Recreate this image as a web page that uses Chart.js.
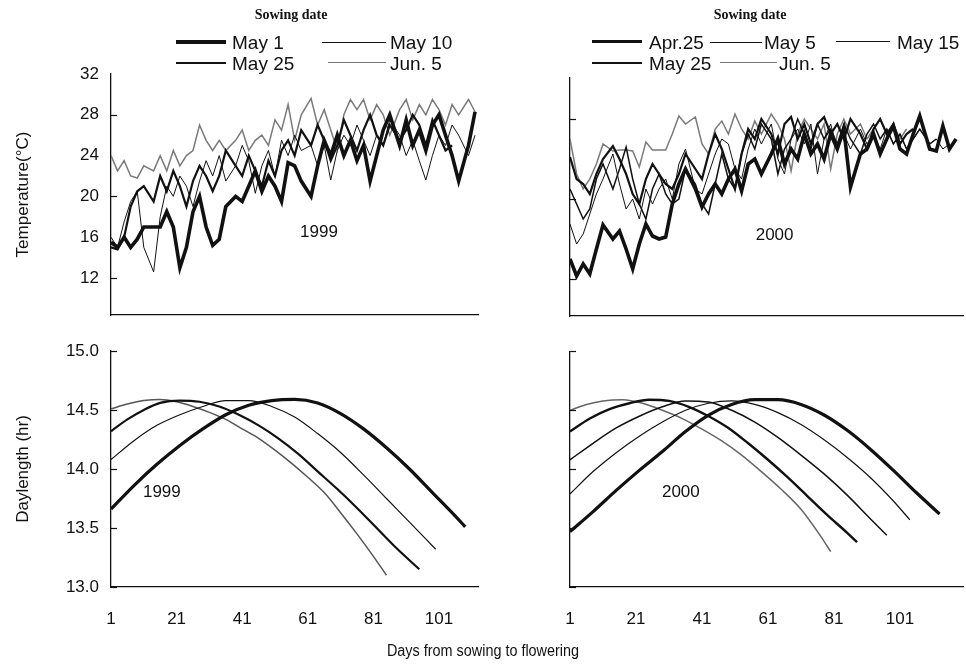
<!DOCTYPE html>
<html>
<head>
<meta charset="utf-8">
<script src="https://cdn.jsdelivr.net/npm/chart.js@4.4.1/dist/chart.umd.min.js"></script>
<style>
  html, body { margin: 0; padding: 0; background: #fff; }
  #wrap { position: relative; width: 966px; height: 671px; overflow: hidden;
          font-family: 'Liberation Sans', Arial, sans-serif; color: #111; }
  #wrap canvas { position: absolute; left: 0; top: 0; }
  .lg { position: absolute; font-size: 19px; line-height: 19px; white-space: nowrap; transform: translateY(-50%); }
  .sw { position: absolute; height: 0; }
  .head { position: absolute; font-family: 'Liberation Serif', 'Times New Roman', serif;
          font-weight: bold; font-size: 14px; transform: translate(-50%, -50%); white-space: nowrap; }
  #xtitle { position: absolute; left: 483px; top: 651px; transform: translate(-50%, -50%) scaleX(0.9);
            font-size: 16px; white-space: nowrap; }
</style>
</head>
<body>
<div id="wrap">
  <canvas id="tl" width="966" height="671"></canvas>
  <canvas id="tr" width="966" height="671"></canvas>
  <canvas id="bl" width="966" height="671"></canvas>
  <canvas id="br" width="966" height="671"></canvas>

  <!-- legend 1999 -->
  <div class="head" style="left:291px; top:15px;">Sowing date</div>
  <div class="sw" style="left:176px; top:40px; width:50px; border-top:4px solid #111;"></div>
  <div class="lg" style="left:232px; top:42px;">May 1</div>
  <div class="sw" style="left:322px; top:42px; width:64px; border-top:1px solid #111;"></div>
  <div class="lg" style="left:390px; top:42px;">May 10</div>
  <div class="sw" style="left:176px; top:62px; width:50px; border-top:2.5px solid #111;"></div>
  <div class="lg" style="left:232px; top:63px;">May 25</div>
  <div class="sw" style="left:328px; top:62px; width:58px; border-top:1.5px solid #777;"></div>
  <div class="lg" style="left:390px; top:63px;">Jun. 5</div>

  <!-- legend 2000 -->
  <div class="head" style="left:750px; top:15px;">Sowing date</div>
  <div class="sw" style="left:592px; top:40px; width:50px; border-top:3.5px solid #111;"></div>
  <div class="lg" style="left:649px; top:42px;">Apr.25</div>
  <div class="sw" style="left:710px; top:42px; width:52px; border-top:1px solid #111;"></div>
  <div class="lg" style="left:764px; top:42px;">May 5</div>
  <div class="sw" style="left:836px; top:41px; width:54px; border-top:1.5px solid #111;"></div>
  <div class="lg" style="left:897px; top:42px;">May 15</div>
  <div class="sw" style="left:592px; top:62px; width:50px; border-top:2.5px solid #111;"></div>
  <div class="lg" style="left:649px; top:63px;">May 25</div>
  <div class="sw" style="left:720px; top:62px; width:57px; border-top:1.5px solid #777;"></div>
  <div class="lg" style="left:779px; top:63px;">Jun. 5</div>

  <div id="xtitle">Days from sowing to flowering</div>
</div>

<script>
// ── AXIS TICKS ──
const X_TICKS    = [1, 21, 41, 61, 81, 101];
const TEMP_TICKS = [12, 16, 20, 24, 28, 32];
const TEMP_MARKS = [12, 20, 28];
const DL_TICKS   = [13.0, 13.5, 14.0, 14.5, 15.0];

// ── TEMPERATURE: days at which values were read (about every 2nd day) ──
const T_DAYS = [1,3,5,7,9,11,14,16,18,20,22,24,26,28,30,32,34,36,39,41,43,45,47,49,51,53,55,57,59,
                62,64,66,68,70,72,74,76,78,80,82,84,86,89,91,93,95,97,99,101,103,105,107,110,112,114,116,118];

// 1999 temperature (°C)
const T99_MAY1  = [15.5,15,16,15,15.8,17,17,17,18.5,17,13,15,18.5,20,17,15.2,15.8,19,20,19.5,21,22.5,20.5,22,21,19.5,23.3,23,21.5,20,
                   23,25.5,24,26,24,25.5,23.5,25,21.5,24,26.5,28,25,27.5,25,26.5,24.5,27,28,26,24,21.5,25,28.3];
const T99_MAY10 = [16,15,17.5,19.5,20.5,15,12.6,18,21,20,22,21,19,21.5,23.5,22,24,21.5,23,25,23.5,20.3,23,24.5,22,25.5,24,26,24.5,25,
                   23,25,21.6,24.5,26,25,27,25.5,24,26,25,27.5,26,24,25.5,23.5,21.6,24,26,25,27,26,24,26];
const T99_MAY25 = [15,14.8,16,19,20.5,21,19.5,22,20.5,22.5,21,19,21.5,23,22,20.5,22,24.5,23,22,24,22.5,21,23.5,22,24.5,25.5,24,26.5,25,
                   27,25.5,23.5,25,27.5,26,24.5,26.5,28,26,25,27,25.5,26.5,28,27,25,27.5,26,24.5,25];
const T99_JUN5  = [24,22.5,23.5,22,21.8,23,22.5,24,22.5,24.5,23,24,24.5,27,25.5,24.5,25.5,24.5,25.5,26.5,24.5,25.5,26,25,27.5,26.5,29,25.5,28,29.6,
                   27,28.5,26.5,24.5,28,29.5,28.5,29.5,27.5,29,28,26,28.5,29.5,27.5,29,28,29.5,28.5,27,29,28,29.5,28.3];

// 2000 temperature (°C)
const T00_APR25 = [14,12.3,13.5,12.5,15,17.4,16,16.8,15,13,15.5,17.5,16.3,16,16.2,19.5,21.5,23,21,19.2,20.5,21.5,20.5,22,23,20.8,23.5,24,22.5,24.5,
                   26,23.5,25,24,26.5,24.5,25.5,24,26.5,25,27,21.2,24.5,25,26.5,24.5,26,27.3,25,24.5,26.5,28.3,25,24.8,27.3,25,26];
const T00_MAY5  = [17.5,15.5,16.5,18.5,20.5,22,24.5,21.5,19,20,18,21,19.5,21,22,20,23.5,25,21,20.5,22.5,24.5,26,25.5,23,22,25,27,25.5,27.5,
                   24,22.5,26,27,25.5,27.5,22.5,26,27.5,25,26.5,25,27,25.5,26.5,25,27,25.5,26.5,25,26,27,25.5,26,25,25.5];
const T00_MAY15 = [21,19.5,18,19,22,23.5,21,23,25.2,22,19.5,18,21,22.5,20.5,19.5,20,23,21.5,19.5,18.5,21.5,24.5,22,21,24.5,26.5,25,27.5,26,
                   22.5,25,26,28,26.5,25,27.5,26,27,25.5,27.5,26,24.5,26.5,27.5,26,27,25.5,26.5,25,26,27,25.5,26];
const T00_MAY25 = [24.2,22,21.5,20.5,22.5,24,25.3,24,22.5,20.5,19.5,22,23.5,22.5,21.5,21,22.5,24.5,23,22,24.5,26.5,25,23,21,24.5,27,26,28,26.5,
                   24.5,27.5,28.2,26,27.5,25.5,27.5,28.2,26.5,27.5,26,28,26.5,25,27,28,26.5,27.5,25.5,26.5,27];
const T00_JUN5  = [26,22.5,21,22,23.5,25.5,24.8,24.9,24.9,24.8,23.2,25.7,24.9,24.9,24.9,26.5,28.3,27.5,28.2,25.5,24.5,27,27.8,26.5,28.5,27,26,27.8,26.5,28.5,
                   27.5,26,22.8,26.5,28,27,26,27.5,23,26.5,28,26.5,27.5,26,27,28,26.5,27.5,26,27];

// ── DAYLENGTH (hr) ──
const D99_MAY1_X  = [1,8,15,22,29,36,43,50,57,64,71,78,85,92,99,106,109];
const D99_MAY1    = [13.66,13.86,14.04,14.2,14.34,14.46,14.54,14.58,14.59,14.56,14.47,14.34,14.18,14.0,13.8,13.6,13.51];
const D99_MAY10_X = [1,8,15,22,29,36,43,50,57,64,71,78,85,92,100];
const D99_MAY10   = [14.08,14.24,14.37,14.46,14.53,14.58,14.58,14.53,14.44,14.3,14.14,13.95,13.75,13.55,13.32];
const D99_MAY25_X = [1,6,11,16,22,28,34,40,46,52,58,64,70,76,82,88,95];
const D99_MAY25   = [14.32,14.42,14.5,14.56,14.58,14.57,14.53,14.46,14.37,14.26,14.13,13.98,13.83,13.67,13.5,13.33,13.15];
const D99_JUN5_X  = [1,6,11,16,21,26,31,36,41,46,51,56,61,66,71,76,81,85];
const D99_JUN5    = [14.51,14.55,14.58,14.59,14.57,14.53,14.48,14.42,14.34,14.26,14.16,14.05,13.93,13.8,13.63,13.45,13.26,13.1];

const D00_APR25_X = [1,8,15,22,29,36,43,50,57,64,71,78,85,92,99,106,113];
const D00_APR25   = [13.47,13.64,13.82,13.99,14.15,14.32,14.46,14.55,14.59,14.59,14.55,14.46,14.33,14.17,13.99,13.8,13.62];
const D00_MAY5_X  = [1,8,15,22,29,36,43,50,57,64,71,78,85,92,99,104];
const D00_MAY5    = [13.79,13.98,14.14,14.28,14.4,14.5,14.56,14.58,14.55,14.48,14.38,14.25,14.1,13.93,13.73,13.57];
const D00_MAY15_X = [1,8,15,22,29,36,43,50,57,64,71,78,85,92,97];
const D00_MAY15   = [14.08,14.22,14.35,14.45,14.53,14.58,14.57,14.5,14.4,14.27,14.12,13.96,13.78,13.58,13.44];
const D00_MAY25_X = [1,7,13,19,25,31,37,43,49,55,61,67,73,79,85,88];
const D00_MAY25   = [14.32,14.43,14.51,14.56,14.59,14.58,14.53,14.45,14.35,14.22,14.08,13.93,13.77,13.61,13.46,13.38];
const D00_JUN5_X  = [1,6,11,17,23,29,35,41,47,53,59,65,71,77,80];
const D00_JUN5    = [14.5,14.55,14.58,14.59,14.56,14.5,14.43,14.34,14.24,14.12,13.98,13.83,13.66,13.43,13.3];

// ── STYLE ──
const INK  = '#111';
const GREY = '#7a7a7a';
Chart.defaults.font.family = "'Liberation Sans', Arial, sans-serif";
Chart.defaults.color = INK;

function pts(xs, ys) { return ys.map((v, i) => ({ x: xs[i], y: v })); }

function line(xs, ys, width, color, smooth) {
  return {
    data: pts(xs, ys),
    borderColor: color,
    borderWidth: width,
    pointRadius: 0,
    tension: smooth ? 0.4 : 0,
    cubicInterpolationMode: smooth ? 'monotone' : 'default',
    fill: false,
  };
}

// inward tick marks on the y axis + panel year label
const panelExtras = {
  id: 'panelExtras',
  afterDraw(chart, args, opts) {
    const { ctx, chartArea } = chart;
    const y = chart.scales.y;
    ctx.save();
    ctx.strokeStyle = INK;
    ctx.lineWidth = 1.2;
    (opts.marks || []).forEach(v => {
      const py = Math.round(y.getPixelForValue(v)) + 0.5;
      ctx.beginPath();
      ctx.moveTo(chartArea.left, py);
      ctx.lineTo(chartArea.left + 6, py);
      ctx.stroke();
    });
    if (opts.text) {
      ctx.fillStyle = INK;
      ctx.font = "17px 'Liberation Sans', Arial, sans-serif";
      ctx.textAlign = 'center';
      ctx.textBaseline = 'middle';
      ctx.fillText(opts.text,
        chart.scales.x.getPixelForValue(opts.x),
        y.getPixelForValue(opts.y));
    }
    ctx.restore();
  }
};

function makePanel(id, p) {
  return new Chart(document.getElementById(id), {
    type: 'line',
    data: { datasets: p.datasets },
    plugins: [panelExtras],
    options: {
      responsive: false,
      animation: false,
      events: [],
      layout: { padding: p.pad },
      plugins: {
        legend: { display: false },
        tooltip: { enabled: false },
        panelExtras: p.label,
      },
      scales: {
        x: {
          type: 'linear',
          min: 1, max: p.xMax,
          afterBuildTicks: s => { s.ticks = X_TICKS.map(v => ({ value: v })); },
          afterFit: s => { s.height = p.xH; },
          grid: { display: false, drawTicks: false },
          border: { display: true, color: INK, width: 1.3 },
          ticks: { display: p.xLabels, padding: 22, font: { size: 17 }, color: INK },
        },
        y: {
          type: 'linear',
          min: p.yMin, max: p.yMax,
          afterBuildTicks: s => { s.ticks = p.yTicks.map(v => ({ value: v })); },
          afterFit: s => { s.width = p.yW; },
          grid: { display: false, drawTicks: false },
          border: { display: true, color: INK, width: 1.3 },
          ticks: {
            display: p.yLabels, padding: 12, font: { size: 17 }, color: INK,
            callback: p.fmt,
          },
          title: {
            display: !!p.yTitle, text: p.yTitle, color: INK,
            font: { size: 17 }, padding: { top: 2, bottom: 0 },
          },
        },
      },
    },
  });
}

// ── TEMPERATURE 1999 ──
makePanel('tl', {
  pad: { left: 11, top: 74, right: 488, bottom: 356 },
  xMax: 112.9, xH: 0, xLabels: false,
  yMin: 8.37, yMax: 32, yTicks: TEMP_TICKS, yW: 100, yLabels: true,
  yTitle: 'Temperature(°C)', fmt: v => v,
  label: { text: '1999', x: 64.4, y: 16.5, marks: TEMP_MARKS },
  datasets: [
    line(T_DAYS, T99_MAY1, 3.6, INK),
    line(T_DAYS, T99_MAY25, 2.2, INK),
    line(T_DAYS, T99_MAY10, 1, INK),
    line(T_DAYS, T99_JUN5, 1.5, GREY),
  ],
});

// ── TEMPERATURE 2000 ──
makePanel('tr', {
  pad: { left: 570, top: 78, right: 3, bottom: 355 },
  xMax: 120.1, xH: 0, xLabels: false,
  yMin: 8.3, yMax: 32.1, yTicks: TEMP_TICKS, yW: 0, yLabels: false,
  yTitle: '', fmt: v => v,
  label: { text: '2000', x: 63, y: 16.4, marks: TEMP_MARKS },
  datasets: [
    line(T_DAYS, T00_APR25, 3.6, INK),
    line(T_DAYS, T00_MAY25, 2.2, INK),
    line(T_DAYS, T00_MAY15, 1.5, INK),
    line(T_DAYS, T00_MAY5, 1, INK),
    line(T_DAYS, T00_JUN5, 1.5, GREY),
  ],
});

// ── DAYLENGTH 1999 ──
makePanel('bl', {
  pad: { left: 11, top: 351, right: 488, bottom: 34 },
  xMax: 112.9, xH: 50, xLabels: true,
  yMin: 13, yMax: 15, yTicks: DL_TICKS, yW: 100, yLabels: true,
  yTitle: 'Daylength (hr)', fmt: v => v.toFixed(1),
  label: { text: '1999', x: 16.5, y: 13.8, marks: DL_TICKS },
  datasets: [
    line(D99_MAY1_X, D99_MAY1, 3.2, INK, true),
    line(D99_MAY25_X, D99_MAY25, 2.2, INK, true),
    line(D99_MAY10_X, D99_MAY10, 1.2, INK, true),
    line(D99_JUN5_X, D99_JUN5, 1.5, '#555', true),
  ],
});

// ── DAYLENGTH 2000 ──
makePanel('br', {
  pad: { left: 570, top: 352, right: 3, bottom: 34 },
  xMax: 120.1, xH: 50, xLabels: true,
  yMin: 13, yMax: 14.995, yTicks: DL_TICKS, yW: 0, yLabels: false,
  yTitle: '', fmt: v => v.toFixed(1),
  label: { text: '2000', x: 34.6, y: 13.8, marks: DL_TICKS },
  datasets: [
    line(D00_APR25_X, D00_APR25, 3.2, INK, true),
    line(D00_MAY25_X, D00_MAY25, 2.4, INK, true),
    line(D00_MAY15_X, D00_MAY15, 1.5, INK, true),
    line(D00_MAY5_X, D00_MAY5, 1.2, INK, true),
    line(D00_JUN5_X, D00_JUN5, 1.5, '#666', true),
  ],
});
</script>
</body>
</html>
